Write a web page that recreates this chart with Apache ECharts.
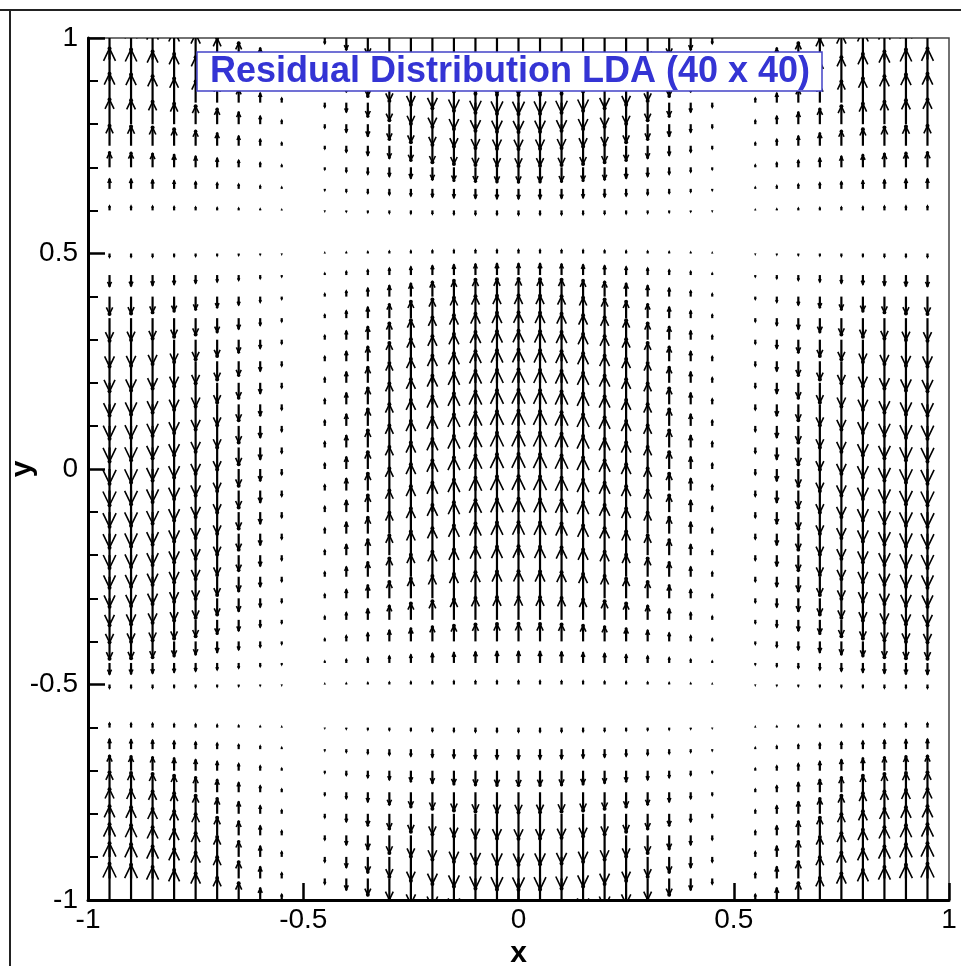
<!DOCTYPE html>
<html>
<head>
<meta charset="utf-8">
<title>Residual Distribution LDA (40 x 40)</title>
<script src="https://cdn.jsdelivr.net/npm/echarts@6/dist/echarts.min.js"></script>
<style>
  html, body { margin: 0; padding: 0; background: #fff; }
  #main { width: 961px; height: 966px; }
</style>
</head>
<body>
<div id="main"></div>
<script>
// grid nodes (spacing 0.05), boundary columns x=+-1 are zero and not drawn
const xNodes = [-0.95, -0.9, -0.85, -0.8, -0.75, -0.7, -0.65, -0.6, -0.55, -0.5,
  -0.45, -0.4, -0.35, -0.3, -0.25, -0.2, -0.15, -0.1, -0.05, 0,
  0.05, 0.1, 0.15, 0.2, 0.25, 0.3, 0.35, 0.4, 0.45, 0.5,
  0.55, 0.6, 0.65, 0.7, 0.75, 0.8, 0.85, 0.9, 0.95];
const yNodes = [1, 0.95, 0.9, 0.85, 0.8, 0.75, 0.7, 0.65, 0.6, 0.55,
  0.5, 0.45, 0.4, 0.35, 0.3, 0.25, 0.2, 0.15, 0.1, 0.05, 0,
  -0.05, -0.1, -0.15, -0.2, -0.25, -0.3, -0.35, -0.4, -0.45, -0.5,
  -0.55, -0.6, -0.65, -0.7, -0.75, -0.8, -0.85, -0.9, -0.95, -1];

// vertical residual strength per column (read along the middle band)
const colAmp = [-0.99, -0.96, -0.9, -0.82, -0.72, -0.6, -0.46, -0.31, -0.15, 0,
  0.15, 0.31, 0.46, 0.6, 0.72, 0.82, 0.9, 0.96, 0.99, 1,
  0.99, 0.96, 0.9, 0.82, 0.72, 0.6, 0.46, 0.31, 0.15, 0,
  -0.15, -0.31, -0.46, -0.6, -0.72, -0.82, -0.9, -0.96, -0.99];
// sign / strength per row (read along an outer column)
const rowAmp = [-1, -0.97, -0.9, -0.8, -0.68, -0.55, -0.4, -0.26, -0.12, 0,
  0.1, 0.3, 0.48, 0.62, 0.74, 0.83, 0.9, 0.95, 0.98, 1, 1,
  1, 0.98, 0.95, 0.9, 0.83, 0.74, 0.62, 0.48, 0.3, 0.1,
  0, -0.12, -0.26, -0.4, -0.55, -0.68, -0.8, -0.9, -0.97, -1];

const arrowScale = 0.085; // data units per unit residual
const FONT = "'Liberation Sans', Arial, Helvetica, sans-serif";

var vectors = [];
yNodes.forEach(function (y, j) {
  xNodes.forEach(function (x, i) {
    vectors.push([x, y, colAmp[i] * rowAmp[j]]);
  });
});

function renderArrow(params, api) {
  var x = api.value(0), y = api.value(1), v = api.value(2);
  if (Math.abs(v) < 0.004) return;
  var p0 = api.coord([x, y]);
  var p1 = api.coord([x, y + v * arrowScale]);
  var dy = p1[1] - p0[1];
  var len = Math.abs(dy);
  var dir = dy < 0 ? -1 : 1;
  var hl = len * 0.38, hw = hl * 0.48;
  return {
    type: 'group',
    children: [
      { type: 'line', shape: { x1: p0[0], y1: p0[1], x2: p1[0], y2: p1[1] },
        style: { stroke: '#000', fill: null, lineWidth: 2.2 } },
      {
        type: 'polyline',
        shape: { points: [[p1[0] - hw, p1[1] - dir * hl], [p1[0], p1[1]], [p1[0] + hw, p1[1] - dir * hl]] },
        style: { stroke: '#000', fill: null, lineWidth: 1.6 }
      },
      { type: 'circle', shape: { cx: p1[0], cy: p1[1], r: Math.min(2, len * 0.12) }, style: { fill: '#000' } }
    ]
  };
}

var myChart = echarts.init(document.getElementById('main'), null, { renderer: 'canvas' });
myChart.setOption({
  animation: false,
  backgroundColor: '#fff',
  grid: {
    left: 88, top: 38, right: 12, bottom: 66,
    outerBoundsMode: 'none',
    containLabel: false,
    show: true, borderColor: '#444', borderWidth: 1.5, backgroundColor: 'transparent'
  },
  xAxis: {
    type: 'value', min: -1, max: 1, interval: 0.5,
    name: 'x', nameLocation: 'middle', nameGap: 34,
    nameTextStyle: { color: '#000', fontSize: 30, fontWeight: 'bold', fontFamily: FONT },
    axisLine: { onZero: false, lineStyle: { color: '#000', width: 3 } },
    axisTick: { inside: true, length: 17, lineStyle: { color: '#000', width: 2.5 } },
    axisLabel: { color: '#000', fontSize: 28, fontFamily: FONT, margin: 6 },
    splitLine: { show: false }
  },
  yAxis: {
    type: 'value', min: -1, max: 1, interval: 0.5,
    name: 'y', nameLocation: 'middle', nameGap: 50, nameRotate: 90,
    nameMoveOverlap: false,
    nameTextStyle: { color: '#000', fontSize: 30, fontWeight: 'bold', fontFamily: FONT },
    axisLine: { onZero: false, lineStyle: { color: '#000', width: 3 } },
    axisTick: { inside: true, length: 17, lineStyle: { color: '#000', width: 2.5 } },
    minorTick: { show: true, splitNumber: 5, length: 10, lineStyle: { color: '#000', width: 2 } },
    axisLabel: { color: '#000', fontSize: 28, fontFamily: FONT, margin: 10 },
    splitLine: { show: false }
  },
  graphic: [
    { type: 'line', z: 100, zlevel: 1, shape: { x1: 0, y1: 10, x2: 961, y2: 10 }, style: { stroke: '#222', lineWidth: 2 } },
    { type: 'line', z: 100, zlevel: 1, shape: { x1: 10, y1: 10, x2: 10, y2: 966 }, style: { stroke: '#222', lineWidth: 2 } },
    { type: 'rect', z: 100, zlevel: 1, shape: { x: 197, y: 52, width: 625, height: 39 },
      style: { fill: '#fff', stroke: '#4343c8', lineWidth: 1.5 } },
    { type: 'text', z: 101, zlevel: 1, x: 510, y: 72,
      style: { text: 'Residual Distribution LDA (40 x 40)', fill: '#3434d4',
        font: 'bold 36px ' + FONT, align: 'center', verticalAlign: 'middle' } }
  ],
  series: [{
    type: 'custom',
    clip: true,
    progressive: 0,
    renderItem: renderArrow,
    data: vectors
  }]
});
</script>
</body>
</html>
